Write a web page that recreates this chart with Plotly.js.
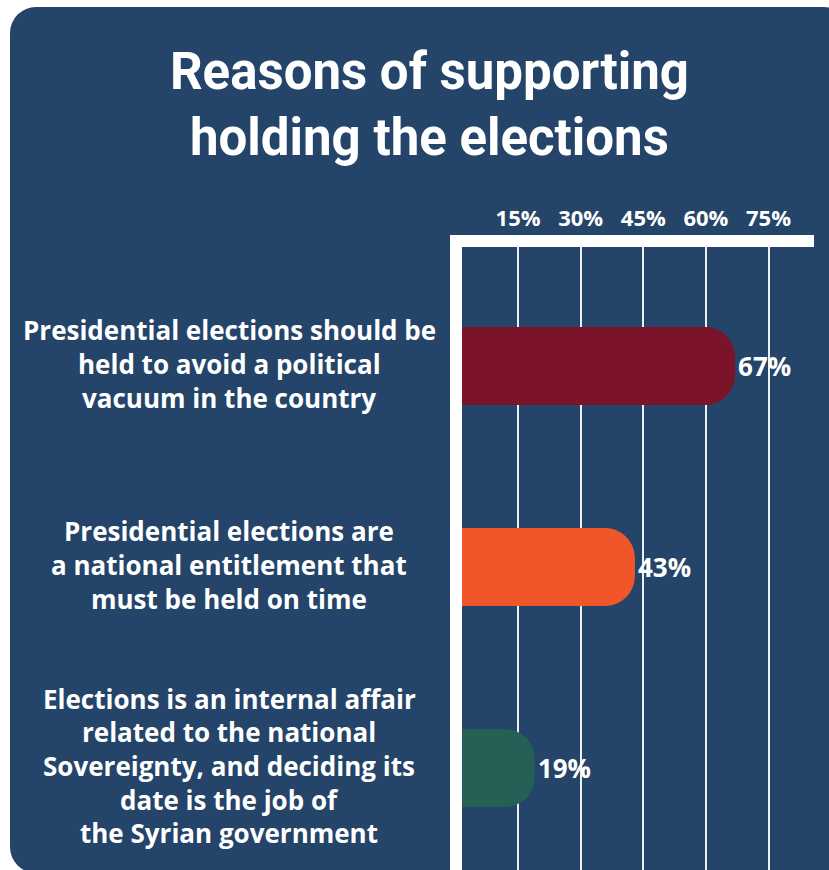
<!DOCTYPE html>
<html>
<head>
<meta charset="utf-8">
<script src="https://cdn.plot.ly/plotly-3.0.1.min.js"></script>
<style>
  html, body { margin: 0; padding: 0; background: #ffffff; width: 829px; height: 870px; overflow: hidden; }
  #bg { position: absolute; left: 10px; top: 7px; width: 840px; height: 866px; border-radius: 26px; background: #244569; }
  #chart { position: absolute; left: 0; top: 0; width: 829px; height: 870px; }
</style>
</head>
<body>
<div id="bg"></div>
<div id="chart"></div>
<script>
// ---- data ----
const categories = [
  "Presidential elections should be<br>held to avoid a political<br>vacuum in the country",
  "Presidential elections are<br>a national entitlement that<br>must be held on time",
  "Elections is an internal affair<br>related to the national<br>Sovereignty, and deciding its<br>date is the job of<br>the Syrian government"
];
const values = [67, 43, 19];
const valueLabels = ["67%", "43%", "19%"];
const barColors = ["#7b1428", "#f0562a", "#255f55"];
const tickValues = [15, 30, 45, 60, 75];
const tickLabels = ["15%", "30%", "45%", "60%", "75%"];
const chartTitle = "Reasons of supporting<br>holding the elections";

// ---- chart ----
const idx = categories.map((c, i) => i);

const trace = {
  type: "bar",
  orientation: "h",
  x: values,
  y: idx,
  width: 0.388,
  marker: { color: barColors, cornerradius: 30, line: { width: 0 } },
  text: valueLabels,
  textposition: "outside",
  cliponaxis: false,
  constraintext: "none",
  textfont: { family: "Open Sans", size: 26, color: "#ffffff", weight: 700 },
  hoverinfo: "skip"
};

const LINE_PITCH = 33.7;
const annotations = [];
categories.forEach((cat, i) => {
  const lines = cat.split("<br>");
  const n = lines.length;
  lines.forEach((ln, j) => {
    annotations.push({
      text: ln,
      xref: "paper", yref: "y",
      x: 0, y: i,
      xanchor: "center", yanchor: "middle",
      xshift: -233,
      yshift: ((n - 1) / 2 - j) * LINE_PITCH + 2,
      showarrow: false,
      font: { family: "Open Sans", size: 26, color: "#ffffff", weight: 700 }
    });
  });
});

const layout = {
  width: 829, height: 870,
  margin: { l: 462, r: 15, t: 247, b: 0, pad: 0 },
  paper_bgcolor: "rgba(0,0,0,0)",
  plot_bgcolor: "rgba(0,0,0,0)",
  showlegend: false,
  title: {
    text: chartTitle,
    font: { family: "Roboto", size: 51, color: "#ffffff", weight: 700 },
    xref: "container", x: 0.518, xanchor: "center",
    yref: "container", y: 1 - 89 / 870, yanchor: "middle"
  },
  xaxis: {
    side: "top",
    range: [1.56, 85.9],
    tickvals: tickValues,
    ticktext: tickLabels,
    ticks: "",
    showgrid: true, gridcolor: "rgba(255,255,255,0.92)", gridwidth: 2,
    zeroline: false,
    showline: true, linecolor: "#ffffff", linewidth: 12,
    tickfont: { family: "Open Sans", size: 22, color: "#ffffff", weight: 700 },
    fixedrange: true
  },
  yaxis: {
    range: [2.507, -0.592],
    showticklabels: false,
    ticks: "",
    showgrid: false,
    zeroline: false,
    showline: true, linecolor: "#ffffff", linewidth: 12,
    fixedrange: true
  },
  annotations: annotations
};

Plotly.newPlot("chart", [trace], layout, { displayModeBar: false, staticPlot: true });
</script>
</body>
</html>
